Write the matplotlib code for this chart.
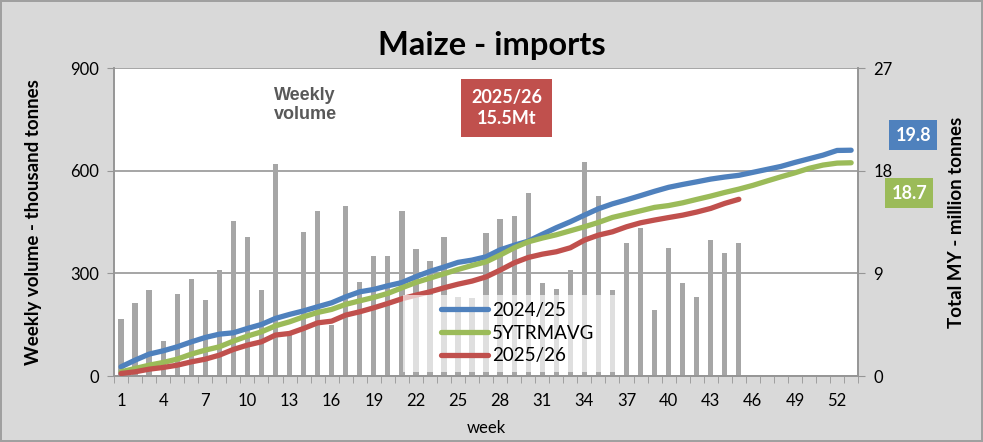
import matplotlib
matplotlib.use("Agg")
import matplotlib.pyplot as plt
from matplotlib.patches import Rectangle
import numpy as np

plt.rcParams["font.family"] = ["Lato", "DejaVu Sans"]

# weekly volume, thousand tonnes (weeks 1-45)
weekly = [167, 215, 251, 103, 239, 284, 222, 310, 454, 407, 252, 620, 130, 420, 483,
          150, 498, 274, 352, 351, 482, 370, 336, 406, 232, 228, 417, 460, 469, 535,
          271, 256, 310, 625, 527, 251, 390, 433, 193, 375, 273, 230, 397, 360, 390]

# cumulative, million tonnes
my_2425 = [0.82, 1.40, 1.93, 2.22, 2.57, 3.00, 3.39, 3.68, 3.80, 4.18, 4.53, 5.06, 5.41,
           5.72, 6.08, 6.43, 6.95, 7.39, 7.60, 7.92, 8.20, 8.72, 9.18, 9.56, 9.97, 10.17,
           10.46, 11.07, 11.47, 11.83, 12.43, 13.01, 13.53, 14.11, 14.67, 15.10, 15.45,
           15.82, 16.20, 16.55, 16.80, 17.03, 17.27, 17.45, 17.60, 17.86, 18.12, 18.38,
           18.73, 19.05, 19.37, 19.78, 19.80]
avg_5y = [0.38, 0.67, 0.96, 1.20, 1.49, 1.93, 2.28, 2.57, 3.07, 3.51, 3.88, 4.41, 4.76,
          5.20, 5.58, 5.85, 6.29, 6.60, 6.90, 7.25, 7.74, 8.21, 8.59, 8.97, 9.35, 9.70,
          10.02, 10.61, 11.25, 11.77, 12.10, 12.39, 12.74, 13.09, 13.47, 13.91, 14.20,
          14.49, 14.79, 14.95, 15.19, 15.49, 15.78, 16.10, 16.39, 16.72, 17.10, 17.47,
          17.82, 18.21, 18.50, 18.67, 18.70]
my_2526 = [0.23, 0.38, 0.61, 0.76, 0.96, 1.25, 1.49, 1.84, 2.34, 2.72, 3.01, 3.60, 3.74,
           4.18, 4.67, 4.82, 5.35, 5.64, 5.99, 6.37, 6.78, 7.10, 7.39, 7.74, 8.06, 8.33,
           8.70, 9.29, 9.93, 10.40, 10.69, 10.90, 11.25, 11.92, 12.36, 12.65, 13.09,
           13.44, 13.68, 13.90, 14.11, 14.38, 14.70, 15.14, 15.50]

weeks = np.arange(1, 54)
tick_weeks = list(range(1, 54, 3))

BLUE = "#4F81BD"
GREEN = "#9BBB59"
RED = "#C0504D"
GREY = "#A6A6A6"

fig = plt.figure(figsize=(9.83, 4.42), dpi=100)
fig.patch.set_facecolor("#D9D9D9")
fig.patch.set_edgecolor("#A0A0A0")
fig.patch.set_linewidth(1.5)

ax = fig.add_axes([0.116, 0.149, 0.757, 0.697])
ax.set_facecolor("white")
ax.bar(weeks[:len(weekly)], weekly, width=0.38, color=GREY, zorder=2)
ax.set_xlim(0.5, 53.5)
ax.set_ylim(0, 900)
ax.set_yticks([0, 300, 600, 900])
ax.grid(axis="y", color="#969696", linewidth=1.2, zorder=0)
ax.set_xticks(tick_weeks)
ax.set_xticks(np.arange(0.5, 54, 1), minor=True)
ax.tick_params(axis="x", which="major", length=0, labelsize=12, pad=12)
ax.tick_params(axis="x", which="minor", length=5, color="#969696")
ax.tick_params(axis="y", length=5, color="#969696", labelsize=12, pad=6)
for s in ax.spines.values():
    s.set_color("#969696")
    s.set_linewidth(1.2)
ax.spines["top"].set_visible(False)
ax.set_xlabel("week", fontsize=12, labelpad=8)
ax.set_ylabel("Weekly volume - thousand tonnes", fontsize=13.5, fontweight="bold",
              labelpad=20)

ax2 = ax.twinx()
ax2.set_ylim(0, 27)
ax2.set_yticks([0, 9, 18, 27])
ax2.tick_params(axis="y", length=5, color="#969696", labelsize=12, pad=6)
for s in ax2.spines.values():
    s.set_color("#969696")
    s.set_linewidth(1.2)
ax2.spines["top"].set_visible(False)
ax2.plot(weeks, my_2425, color=BLUE, lw=3.8, label="2024/25", solid_capstyle="round", zorder=3)
ax2.plot(weeks, avg_5y, color=GREEN, lw=3.8, label="5YTRMAVG", solid_capstyle="round", zorder=3)
ax2.plot(weeks[:len(my_2526)], my_2526, color=RED, lw=3.8, label="2025/26",
         solid_capstyle="round", zorder=3)
ax2.set_ylabel("Total MY - million tonnes", fontsize=13.5, fontweight="bold", labelpad=40)

# semi-transparent legend backdrop
ax2.add_patch(Rectangle((0.388, 0.013), 0.288, 0.25, transform=ax2.transAxes,
                        facecolor="white", alpha=0.65, edgecolor="none", zorder=4))
leg = ax2.legend(loc="center left", bbox_to_anchor=(0.44, 0.14), frameon=False,
                 fontsize=13.5, handlelength=2.5, handletextpad=0.2, labelspacing=0.3,
                 borderpad=0, borderaxespad=0)
leg.set_zorder(5)

fig.text(0.5, 0.897, "Maize - imports", ha="center", va="center", fontsize=23.5,
         fontweight="bold")
ax.text(0.257, 0.88, "Weekly\nvolume", transform=ax.transAxes, ha="center", va="center",
        fontsize=13, fontweight="bold", color="#595959", family="Liberation Sans",
        linespacing=1.15)
ax.text(0.528, 0.87, "2025/26\n15.5Mt", transform=ax.transAxes, ha="center", va="center",
        fontsize=13, fontweight="bold", color="white", linespacing=1.25,
        bbox=dict(boxstyle="square,pad=0.55", facecolor=RED, edgecolor="none"))
fig.text(0.929, 0.694, "19.8", ha="center", va="center", fontsize=13, fontweight="bold",
         color="white", bbox=dict(boxstyle="square,pad=0.35", facecolor=BLUE, edgecolor="none"))
fig.text(0.925, 0.563, "18.7", ha="center", va="center", fontsize=13, fontweight="bold",
         color="white", bbox=dict(boxstyle="square,pad=0.35", facecolor=GREEN, edgecolor="none"))

fig.savefig("out.png", dpi=100, facecolor=fig.get_facecolor(), edgecolor=fig.get_edgecolor())
